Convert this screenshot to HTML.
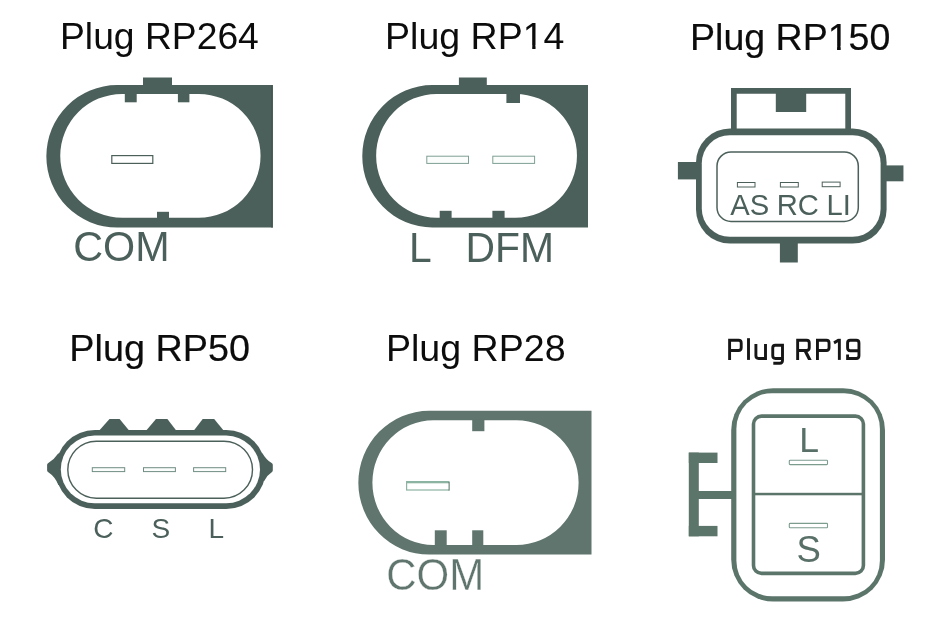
<!DOCTYPE html>
<html>
<head>
<meta charset="utf-8">
<title>Plugs</title>
<style>
html,body{margin:0;padding:0;background:#fff;}
body{width:950px;height:630px;overflow:hidden;}
svg{display:block;will-change:transform;}
text{font-family:"Liberation Sans",sans-serif;}
.t{font-size:36.5px;fill:#0c0c0c;}
</style>
</head>
<body>
<svg width="950" height="630" viewBox="0 0 950 630">
<rect width="950" height="630" fill="#fff"/>

<!-- Titles -->
<text class="t" transform="translate(60,49.3) scale(1.021,1)">Plug RP264</text>
<text class="t" transform="translate(385.1,49.1) scale(1.028,1)">Plug RP14</text>
<text class="t" stroke="#0c0c0c" stroke-width="0.18" transform="translate(690,49.8) scale(1.029,1)">Plug RP150</text>
<rect x="524" y="45.4" width="8.23" height="4.2" fill="#fff"/><rect x="535.53" y="45.4" width="7.5" height="4.2" fill="#fff"/>
<rect x="829.3" y="45.8" width="7.75" height="5.2" fill="#fff"/><rect x="840.69" y="45.8" width="7.7" height="5.2" fill="#fff"/>
<text class="t" stroke="#0c0c0c" stroke-width="0.18" transform="translate(69.3,360.9) scale(1.036,1)">Plug RP50</text>
<text class="t" transform="translate(385.9,360.7) scale(1.03,1)">Plug RP28</text>
<g fill="none" stroke="#161616" stroke-width="2.9" stroke-linejoin="miter">
  <path d="M729.6,359.9 V338.8 M729.6,340.25 H738.5 Q741.2,340.25 741.2,343 V347.8 Q741.2,350.5 738.5,350.5 H729.6"/>
  <path d="M748.5,338.2 V359.9"/>
  <path d="M755.9,343.9 V355.8 Q755.9,358.45 758.6,358.45 H765.5 M765.5,343.9 V359.9"/>
  <path d="M782.5,345.3 H775.4 Q772.75,345.3 772.75,348 V355.8 Q772.75,358.45 775.4,358.45 H782.5 M782.5,343.85 V360.6 Q782.5,363.3 779.8,363.3 H773.3"/>
  <path d="M797.65,359.9 V338.8 M797.65,340.25 H806.55 Q809.25,340.25 809.25,343 V347.8 Q809.25,350.5 806.55,350.5 H797.65"/>
  <polygon points="803.2,350.6 806.8,350.6 811.7,359.9 808.1,359.9" fill="#161616" stroke="none"/>
  <path d="M817.45,359.9 V338.8 M817.45,340.25 H826.35 Q829.05,340.25 829.05,343 V347.8 Q829.05,350.5 826.35,350.5 H817.45"/>
  <path d="M839.35,338.8 V359.9"/>
  <polygon points="833.3,341.5 838,338.8 838,342.3 834.7,344.2" fill="#161616" stroke="none"/>
  <path d="M858.95,350.8 H850.3 Q847.6,350.8 847.6,348.1 V342.95 Q847.6,340.25 850.3,340.25 H856.25 Q858.95,340.25 858.95,342.95 V355.75 Q858.95,358.45 856.25,358.45 H847.6 V354.6"/>
</g>

<!-- RP264 -->
<g fill="#4c605b">
  <path fill-rule="evenodd" d="M117.2,85.1 H143 V77.5 H172 V85.1 H272.8 V227.6 H117.2 A70.85,71.25 0 0 1 117.2,85.1 Z
     M122.2,93.9 A61.95,61.95 0 0 0 122.2,217.8 H198.6 A61.95,61.95 0 0 0 198.6,93.9 Z"/>
  <rect x="124.8" y="93" width="11.9" height="9.3"/>
  <rect x="177.9" y="93" width="11.5" height="9.3"/>
  <rect x="271.3" y="85.1" width="1.5" height="142.5" fill="#44574f"/>
  <rect x="157" y="211.8" width="12" height="7"/>
  <rect x="111.8" y="155.6" width="41" height="7.8" fill="#fff" stroke="#4c605b" stroke-width="1.2"/>
  <text transform="translate(73.3,261.3) scale(1,1.03)" font-size="41.3">COM</text>
</g>

<!-- RP14 -->
<g fill="#4c605b">
  <path fill-rule="evenodd" d="M432.3,85.1 H458.9 V77.5 H486.8 V85.1 H588 V227.4 H432.3 A70.05,71.15 0 0 1 432.3,85.1 Z
     M436.6,93.9 A60.45,61.9 0 0 0 436.6,217.7 H515.4 A61.55,61.9 0 0 0 515.4,93.9 Z"/>
  <rect x="506.4" y="93" width="13.6" height="10"/>
  <rect x="439.7" y="210.8" width="11.9" height="8"/>
  <rect x="492.4" y="210.8" width="12.2" height="8"/>
  <rect x="426.8" y="156.2" width="41.7" height="7.2" fill="#fbfdfc" stroke="#7f9f92" stroke-width="1"/>
  <rect x="492.8" y="156.2" width="41.8" height="7.2" fill="#fbfdfc" stroke="#7f9f92" stroke-width="1"/>
  <text transform="translate(409.1,261.6) scale(1,1.04)" font-size="40.85">L</text>
  <text transform="translate(465.5,261.6) scale(1,1.04)" font-size="40.85">DFM</text>
</g>

<!-- RP150 -->
<g fill="#4c605b" stroke="none">
  <path fill-rule="evenodd" d="M731,88 H851 V135 H731 Z M736.7,93.7 V135 H845.3 V93.7 Z"/>
  <rect x="775.8" y="93" width="30.4" height="19"/>
  <rect x="677.9" y="162" width="21" height="17.4"/>
  <rect x="883" y="165.4" width="20.45" height="15.9"/>
  <rect x="779.9" y="240" width="17.9" height="22.5"/>
  <rect x="696" y="128.5" width="190.6" height="115.1" rx="34" ry="34"/>
  <rect x="701.8" y="135.2" width="178.8" height="101.6" rx="28" ry="28" fill="#fff"/>
  <rect x="717" y="152" width="141.3" height="69.4" rx="14" ry="14" fill="none" stroke="#4c605b" stroke-width="1.5"/>
  <rect x="737.4" y="182.5" width="17.6" height="4.5" fill="#fff" stroke="#4c605b" stroke-width="1"/>
  <rect x="780.4" y="182.5" width="17.9" height="4.5" fill="#fff" stroke="#4c605b" stroke-width="1"/>
  <rect x="822.2" y="182.1" width="17.9" height="4.6" fill="#fff" stroke="#4c605b" stroke-width="1"/>
  <text x="730.2" y="215.4" font-size="29.2">AS</text><text x="776.7" y="215.4" font-size="29.2">RC</text><text x="826.6" y="215.4" font-size="29.2">LI</text>
</g>

<!-- RP50 -->
<g fill="#4c605b">
  <polygon points="98.8,431 109.5,419.1 119.6,419.1 129.5,431"/>
  <polygon points="145.8,431 156,419.1 167.4,419.1 176.6,431"/>
  <polygon points="193.5,431 202.7,419.1 214.2,419.1 224,431"/>
  <path d="M70,453.4 L58.2,453.4 Q54,459.6 48,463.3 Q47.1,463.9 47.1,465 L47.1,470.3 Q47.1,471.4 48,472 Q55,476.6 58.4,485 L70,485 Z"/>
  <path d="M250,453.4 L262.6,453.4 Q266,459.6 272,463.3 Q272.8,463.9 272.8,465 L272.8,470.3 Q272.8,471.4 272,472 Q267,475.2 264.2,481 L250,481 Z"/>
  <rect x="55.4" y="430" width="210.4" height="79" rx="39.5" ry="39.5"/>
  <rect x="60.8" y="435.6" width="199.2" height="67.6" rx="33.8" ry="33.8" fill="#fff"/>
  <rect x="67.8" y="441.2" width="184.7" height="57" rx="28.5" ry="28.5" fill="none" stroke="#4c605b" stroke-width="1.4"/>
  <rect x="92.3" y="467.7" width="32.4" height="3.9" fill="#fbfdfc" stroke="#6f8d82" stroke-width="1"/>
  <rect x="143.5" y="467.7" width="31.9" height="3.9" fill="#fbfdfc" stroke="#6f8d82" stroke-width="1"/>
  <rect x="193.6" y="467.7" width="32.1" height="3.9" fill="#fbfdfc" stroke="#6f8d82" stroke-width="1"/>
  <text x="93.2" y="537.8" font-size="28">C</text>
  <text x="151.6" y="537.8" font-size="28">S</text>
  <text x="208.5" y="537.8" font-size="28">L</text>
</g>

<!-- RP28 -->
<g fill="#5f756d">
  <path fill-rule="evenodd" d="M429.25,410.8 H591.5 V554.6 H429.25 A70.9,71.9 0 0 1 429.25,410.8 Z
     M433.4,420.3 A61,62.3 0 0 0 433.4,544.9 H516.3 A62.3,62.3 0 0 0 516.3,420.3 Z"/>
  <rect x="472.2" y="419.5" width="12.2" height="11.7"/>
  <rect x="434.8" y="530.3" width="11.9" height="15.5"/>
  <rect x="472.2" y="530.3" width="11.1" height="15.5"/>
  <rect x="406" y="481" width="43.5" height="9.6" fill="#8db3a2"/><rect x="448.5" y="482" width="1" height="8.6" fill="#5f756d"/><rect x="407.2" y="483.3" width="41.3" height="6.1" fill="#fff"/>
  <text transform="translate(386.2,589.8) scale(1,1.04)" font-size="42" stroke="#fff" stroke-width="0.3">COM</text>
</g>

<!-- RP19 -->
<g fill="#5c756b">
  <rect x="688.8" y="452.6" width="10" height="83.7"/>
  <rect x="688.8" y="452.6" width="28.7" height="10.4"/>
  <rect x="688.8" y="525.9" width="28.7" height="10.4"/>
  <rect x="698" y="491" width="35" height="8"/>
  <rect x="731.2" y="388.2" width="153.8" height="213.3" rx="42" ry="42"/>
  <rect x="736.4" y="393.2" width="143.5" height="203.1" rx="35.5" ry="35.5" fill="#fff"/>
  <rect x="753.5" y="416.1" width="109.9" height="157.3" rx="8" ry="8" fill="none" stroke="#5c756b" stroke-width="3.6"/>
  <rect x="753.5" y="492.8" width="110" height="2.5"/>
  <rect x="789.3" y="460.3" width="38.2" height="4.3" rx="0.8" fill="#fff" stroke="#7c9c8e" stroke-width="1.1"/>
  <rect x="789.3" y="523.4" width="38.2" height="4.3" rx="0.8" fill="#fff" stroke="#7c9c8e" stroke-width="1.1"/>
  <text x="799.2" y="452.4" font-size="35.5" fill="#587067">L</text>
  <text x="796.4" y="562.4" font-size="36.5" fill="#587067">S</text>
</g>
</svg>
</body>
</html>
